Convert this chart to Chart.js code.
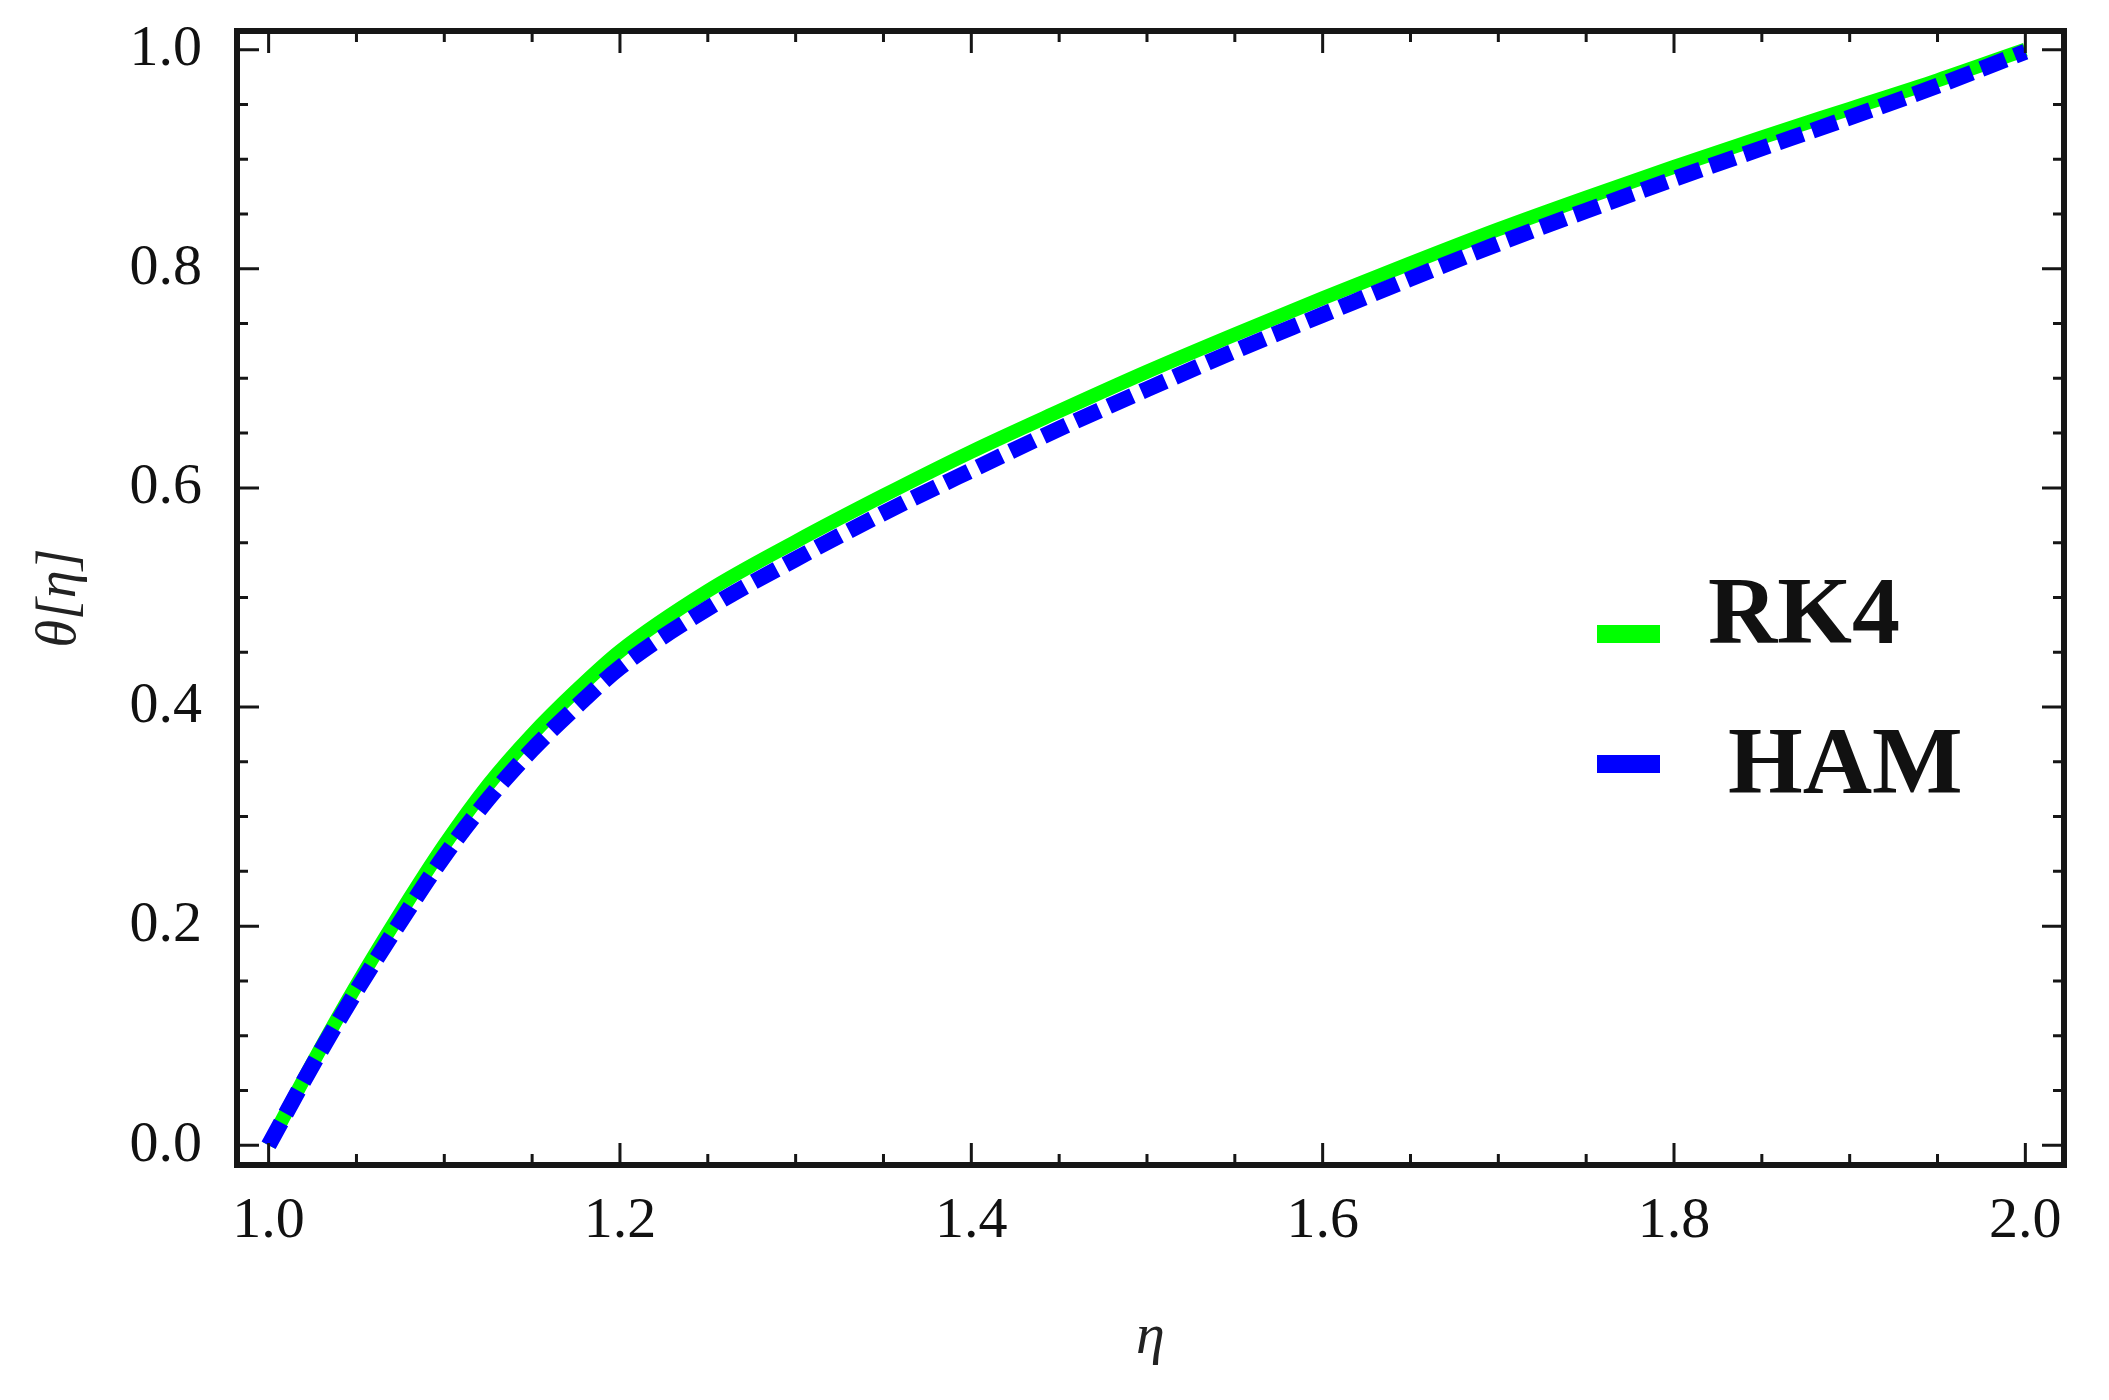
<!DOCTYPE html>
<html>
<head>
<meta charset="utf-8">
<script src="https://cdn.jsdelivr.net/npm/chart.js@4.4.0/dist/chart.umd.min.js"></script>
<style>
  html, body { margin: 0; padding: 0; background: #fff; }
  #wrap { width: 2109px; height: 1400px; position: relative; }
</style>
</head>
<body>
<div id="wrap"><canvas id="thetaChart" width="2109" height="1400"></canvas></div>
<script>
// eta values and the two solutions
var eta = [1.000, 1.025, 1.050, 1.075, 1.100, 1.125, 1.150, 1.175, 1.200, 1.250, 1.300, 1.350, 1.400,
           1.450, 1.500, 1.550, 1.600, 1.650, 1.700, 1.750, 1.800, 1.850, 1.900, 1.950, 2.000];
var rk4 = [0.000, 0.075, 0.146, 0.212, 0.274, 0.329, 0.375, 0.415, 0.451, 0.506, 0.551, 0.593, 0.633,
           0.670, 0.706, 0.740, 0.773, 0.805, 0.836, 0.865, 0.893, 0.920, 0.946, 0.972, 1.000];
var ham = [0.000, 0.073, 0.141, 0.204, 0.264, 0.316, 0.361, 0.400, 0.436, 0.490, 0.535, 0.577, 0.616,
           0.654, 0.690, 0.725, 0.758, 0.791, 0.823, 0.853, 0.882, 0.910, 0.938, 0.967, 0.998];

var xTicks = [1.0, 1.2, 1.4, 1.6, 1.8, 2.0];
var yTicks = [0.0, 0.2, 0.4, 0.6, 0.8, 1.0];
var seriesNames = ["RK4", "HAM"];

var serif = "'Liberation Serif', 'DejaVu Serif', serif";
Chart.defaults.font.family = serif;
Chart.defaults.color = "#111";

function pts(ys) {
	var out = [];
	for (var i = 0; i < eta.length; i++) out.push({ x: eta[i], y: ys[i] });
	return out;
}

// box frame with inward ticks on all four sides (Mathematica style)
var framePlugin = {
	id: "frame",
	afterDatasetsDraw: function(chart) {
		var ctx = chart.ctx, a = chart.chartArea;
		var xs = chart.scales.x, ys = chart.scales.y;
		ctx.save();
		ctx.strokeStyle = "#161616";
		ctx.lineWidth = 3;
		var i, v, p, len;
		for (i = 0; i <= 20; i++) {
			v = 1.0 + i * 0.05;
			p = xs.getPixelForValue(v);
			len = (i % 4 == 0) ? 22 : 11;
			ctx.beginPath();
			ctx.moveTo(p, a.bottom); ctx.lineTo(p, a.bottom - len);
			ctx.moveTo(p, a.top); ctx.lineTo(p, a.top + len);
			ctx.stroke();
		}
		for (i = 0; i <= 20; i++) {
			v = i * 0.05;
			p = ys.getPixelForValue(v);
			len = (i % 4 == 0) ? 22 : 11;
			ctx.beginPath();
			ctx.moveTo(a.left, p); ctx.lineTo(a.left + len, p);
			ctx.moveTo(a.right, p); ctx.lineTo(a.right - len, p);
			ctx.stroke();
		}
		ctx.lineWidth = 6;
		ctx.strokeRect(a.left, a.top, a.right - a.left, a.bottom - a.top);
		ctx.restore();
	}
};

// legend drawn inside the plot, right side
var legendPlugin = {
	id: "insideLegend",
	afterDraw: function(chart) {
		var ctx = chart.ctx;
		var ds = chart.data.datasets;
		var rows = [
			{ ds: ds[1], y: 634, tx: 1708, base: 643 },
			{ ds: ds[0], y: 764, tx: 1728, base: 793 }
		];
		ctx.save();
		ctx.font = "bold 96px " + serif;
		ctx.textBaseline = "alphabetic";
		rows.forEach(function(r) {
			ctx.fillStyle = r.ds.borderColor;
			ctx.fillRect(1597, r.y - 9, 63, 18);
			ctx.fillStyle = "#111";
			ctx.fillText(r.ds.label, r.tx, r.base);
		});
		ctx.restore();
	}
};

new Chart("thetaChart", {
	type: "line",
	data: {
		datasets: [{
			label: seriesNames[1],
			data: pts(ham),
			borderColor: "#0000ff",
			borderWidth: 16,
			borderDash: [26, 10],
			borderCapStyle: "butt",
			pointRadius: 0,
			fill: false,
			cubicInterpolationMode: "monotone"
		}, {
			label: seriesNames[0],
			data: pts(rk4),
			borderColor: "#00ff00",
			borderWidth: 14,
			pointRadius: 0,
			fill: false,
			cubicInterpolationMode: "monotone"
		}]
	},
	options: {
		responsive: false,
		animation: false,
		layout: { padding: { top: 31, right: 45, bottom: 0, left: 0 } },
		plugins: { legend: { display: false }, tooltip: { enabled: false } },
		scales: {
			x: {
				type: "linear",
				min: 0.982,
				max: 2.022,
				grid: { display: false, drawTicks: false },
				border: { display: false },
				afterBuildTicks: function(s) { s.ticks = xTicks.map(function(v) { return { value: v }; }); },
				afterFit: function(s) { s.height = 235; s.paddingLeft = 0; s.paddingRight = 0; },
				ticks: {
					padding: 22,
					maxRotation: 0,
					font: { size: 58 },
					callback: function(v) { return Number(v).toFixed(1); }
				},
				title: {
					display: true,
					text: "η",
					color: "#222",
					font: { size: 58, style: "italic" },
					padding: { top: 0, bottom: 27 }
				}
			},
			y: {
				type: "linear",
				min: -0.018,
				max: 1.017,
				grid: { display: false, drawTicks: false },
				border: { display: false },
				afterBuildTicks: function(s) { s.ticks = yTicks.map(function(v) { return { value: v }; }); },
				afterFit: function(s) { s.width = 237; s.paddingTop = 0; s.paddingBottom = 0; },
				ticks: {
					padding: 35,
					font: { size: 58 },
					callback: function(v) { return Number(v).toFixed(1); }
				},
				title: {
					display: true,
					text: "θ[η]",
					color: "#222",
					font: { size: 56, style: "italic" },
					padding: { top: 27, bottom: 0 }
				}
			}
		}
	},
	plugins: [framePlugin, legendPlugin]
});
</script>
</body>
</html>
